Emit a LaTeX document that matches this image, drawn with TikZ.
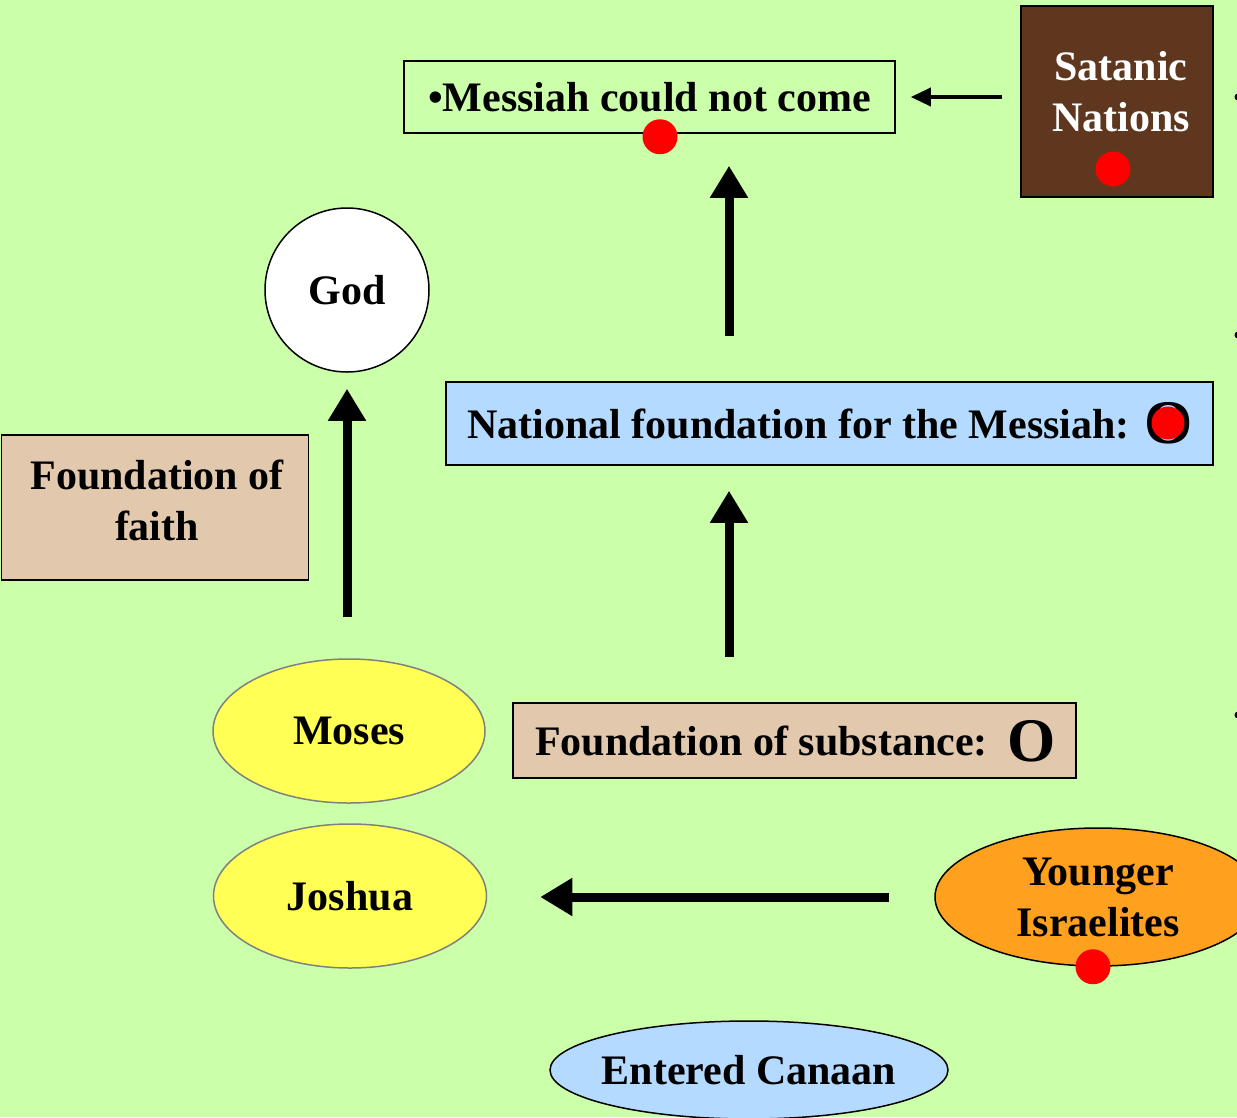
\documentclass[tikz,border=0pt]{standalone}
\usepackage{fontspec}
\setmainfont{Liberation Serif}
\usetikzlibrary{arrows.meta,shapes.geometric,positioning}
\definecolor{paleground}{RGB}{204,255,170}
\definecolor{darkbrown}{RGB}{95,55,30}
\definecolor{tanbox}{RGB}{226,200,172}
\definecolor{skyblue}{RGB}{180,218,255}
\definecolor{lemon}{RGB}{255,255,85}
\definecolor{amber}{RGB}{255,160,30}

\begin{document}
\begin{tikzpicture}[
    x=1pt, y=-1pt,
    font=\fontsize{42}{51}\selectfont\bfseries,
    box/.style={draw, line width=1.5pt, align=center, inner sep=0pt},
    oval/.style={ellipse, draw, line width=1.5pt, align=center, inner sep=0pt},
    reddot/.style={circle, fill=red, minimum size=35pt, inner sep=0pt},
    bigO/.style={font=\fontsize{62}{62}\selectfont\bfseries, inner sep=0pt},
    arr/.style={-{Triangle[width=36pt,length=32pt]}, line width=9pt},
    thinarr/.style={-{Triangle[width=18pt,length=20pt]}, line width=3.5pt}
]
\useasboundingbox (0,0) rectangle (1237,1117);
\clip (0,0) rectangle (1237,1117);
\fill[paleground] (0,0) rectangle (1237,1117);

\node[box, minimum width=491pt, minimum height=72pt] (messiah) at (649.5,97) {•Messiah could not come};
\node[reddot] (messiahdot) at ([xshift=10.5pt, yshift=-3pt]messiah.south) {};

\node[box, fill=darkbrown, minimum width=192pt, minimum height=191pt] (satanic) at (1117,101.5) {};
\node[text=white, align=center, inner sep=0pt] (satanictext) at (1121,92) {Satanic\\Nations};
\node[reddot] (satanicdot) at (1113,169) {};

\node[circle, draw, fill=white, line width=1.5pt, minimum size=164pt, inner sep=0pt] (god) at (347,290) {God};

\node[box, fill=tanbox, minimum width=307pt, minimum height=145pt] (faith) at (155,507.5) {};
\node[align=center, inner sep=0pt] (faithtext) at (157,500) {Foundation of\\faith};

\node[box, fill=skyblue, minimum width=767pt, minimum height=83pt] (national) at (829.5,423.5) {};
\node[anchor=west, inner sep=0pt] (nationaltext) at (467,424) {National foundation for the Messiah:};
\node[bigO] (nationalO) at (1169,423) {O};
\node[reddot, minimum size=33pt] (nationaldot) at ([xshift=-1pt]nationalO.center) {};

\node[oval, fill=lemon, draw=gray, minimum width=272pt, minimum height=144pt] (moses) at (349,731) {Moses};
\node[oval, fill=lemon, draw=gray, minimum width=273pt, minimum height=144pt] (joshua) at (350,896) {Joshua};

\node[box, fill=tanbox, line width=2.5pt, minimum width=563pt, minimum height=75pt] (substance) at (794.5,740.5) {};
\node[anchor=west, inner sep=0pt] (substancetext) at (535,741) {Foundation of substance:};
\node[bigO] (substanceO) at (1032,741) {O};

\node[oval, fill=amber, minimum width=326pt, minimum height=138pt] (younger) at (1098,897) {Younger\\Israelites};
\node[reddot] (youngerdot) at ([xshift=-5pt]younger.south) {};

\node[oval, fill=skyblue, inner xsep=-40pt, minimum width=398pt, minimum height=98pt] (canaan) at (749,1070) {Entered Canaan};

% cut-off bullets at the right edge
\foreach \y in {97,335,715}
  \fill (1238,\y) circle (3.5pt);

\coordinate (spine) at (729,0);

\draw[thinarr, shorten <=18pt, shorten >=15pt] (messiah.east -| satanic.west) -- (messiah.east);
\draw[arr, shorten <=41pt, shorten >=16pt] (moses.north -| god.south) -- (god.south);
\draw[arr, shorten <=45pt, shorten >=25pt] (substance.north -| spine) -- (national.south -| spine);
\draw[arr, shorten <=45pt, shorten >=32pt] (national.north -| spine) -- (messiah.south -| spine);
\draw[arr, shorten <=45pt, shorten >=53pt] (younger.west) -- (joshua.east |- younger.west);

\end{tikzpicture}
\end{document}
